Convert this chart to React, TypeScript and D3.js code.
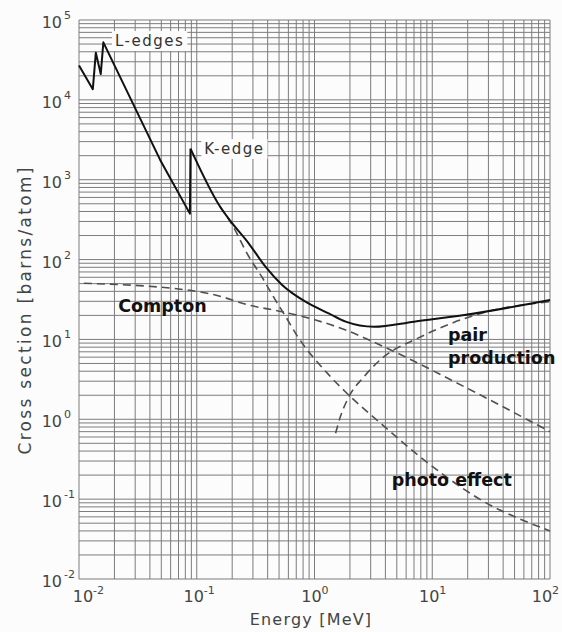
import * as d3 from 'd3';
import React, { useEffect, useRef } from 'react';

// Total attenuation (solid), Pb
const totalEnergy = [0.01, 0.0131, 0.0139, 0.0153, 0.0161, 0.0489, 0.0875, 0.0885, 0.158, 0.193, 0.276, 0.383, 0.531, 0.838, 1.32, 1.84, 3.2, 7.0, 18.7, 100];
const totalSigma = [27000, 13600, 39000, 21000, 52500, 1770, 376, 2450, 459, 305, 160, 81.5, 48.1, 29.7, 21.2, 16.7, 14.4, 16.7, 20.2, 31.2];

const comptonEnergy = [0.011, 0.0826, 0.144, 0.276, 0.531, 1.02, 1.84, 4.44, 18.7, 100];
const comptonSigma = [50.5, 41.6, 36, 27, 22.2, 17.5, 13.1, 7.38, 2.56, 0.7];

const photoEnergy = [0.158, 0.2, 0.276, 0.359, 0.466, 0.567, 0.689, 1.37, 2.02, 3.65, 8.5, 25.9, 100];
const photoSigma = [459, 271, 110, 60, 31, 19.5, 12, 3.41, 1.92, 0.89, 0.31, 0.098, 0.04];

const pairEnergy = [1.51, 1.66, 1.96, 2.63, 3.89, 7.48, 25.9, 100];
const pairSigma = [0.67, 1.08, 1.92, 3.41, 6.08, 10.3, 21.2, 29.7];

const xTickExps = [-2, -1, 0, 1, 2];
const yTickExps = [-2, -1, 0, 1, 2, 3, 4, 5];

// index where the edge part (straight segments) ends and the smooth part starts
const edgeEnd = 7;

const App: React.FC = () => {
    const svgRef = useRef<SVGSVGElement | null>(null);

    useEffect(() => {
        const width = 562;
        const height = 632;
        const margin = { top: 20, right: 12, bottom: 53, left: 79 };

        d3.select(svgRef.current).selectAll('*').remove();

        const svg = d3.select(svgRef.current).attr('width', width).attr('height', height);
        const font = 'DejaVu Sans, sans-serif';

        const x = d3.scaleLog().domain([1e-2, 1e2]).range([margin.left, width - margin.right]);
        const y = d3.scaleLog().domain([1e-2, 1e5]).range([height - margin.bottom, margin.top]);

        svg.append('rect').attr('width', width).attr('height', height).attr('fill', '#fcfcfc');

        // grid: 1..9 in every decade
        const xGrid: number[] = [];
        for (let e = -2; e < 2; e++) for (let m = 1; m < 10; m++) xGrid.push(m * Math.pow(10, e));
        xGrid.push(100);
        const yGrid: number[] = [];
        for (let e = -2; e < 5; e++) for (let m = 1; m < 10; m++) yGrid.push(m * Math.pow(10, e));
        yGrid.push(1e5);

        const grid = svg.append('g').attr('stroke', '#7c7c7c').attr('stroke-width', 1);
        grid.selectAll('.vg')
            .data(xGrid)
            .enter()
            .append('line')
            .attr('x1', d => x(d))
            .attr('x2', d => x(d))
            .attr('y1', y(1e-2))
            .attr('y2', y(1e5));
        grid.selectAll('.hg')
            .data(yGrid)
            .enter()
            .append('line')
            .attr('x1', x(1e-2))
            .attr('x2', x(1e2))
            .attr('y1', d => y(d))
            .attr('y2', d => y(d));

        // tick labels 10^n
        const xt = svg.append('g').attr('font-family', font).attr('fill', '#444');
        xTickExps.forEach((e, i) => {
            let px = x(Math.pow(10, e)) - 3;
            if (i === 0) px += 7;
            if (i === xTickExps.length - 1) px -= 5; // keep the last label inside the page
            xt.append('text').attr('x', px).attr('y', 602).attr('text-anchor', 'middle')
                .attr('font-size', 16).text('10');
            xt.append('text').attr('x', px + 10).attr('y', 594).attr('font-size', 11)
                .text(e < 0 ? `-${-e}` : `${e}`);
        });
        const yt = svg.append('g').attr('font-family', font).attr('fill', '#444');
        yTickExps.forEach(e => {
            const py = y(Math.pow(10, e));
            yt.append('text').attr('x', 62).attr('y', py + 8).attr('text-anchor', 'end')
                .attr('font-size', 16).text('10');
            yt.append('text').attr('x', 64).attr('y', py - 1).attr('font-size', 11)
                .text(e < 0 ? `-${-e}` : `${e}`);
        });

        // axis titles
        svg.append('text')
            .attr('x', 311).attr('y', 625).attr('text-anchor', 'middle')
            .attr('font-family', font).attr('font-size', 16).attr('fill', '#444')
            .attr('letter-spacing', 1.2)
            .text('Energy [MeV]');
        svg.append('text')
            .attr('transform', 'translate(31,311) rotate(-90)')
            .attr('text-anchor', 'middle')
            .attr('font-family', font).attr('font-size', 17).attr('fill', '#444')
            .attr('textLength', 287).attr('lengthAdjust', 'spacing')
            .text('Cross section [barns/atom]');

        // edge labels with white boxes
        const edgeLabels = [
            { text: 'L-edges', e: 0.0202, s: 47200 },
            { text: 'K-edge', e: 0.116, s: 2100 },
        ];
        edgeLabels.forEach(l => {
            const g = svg.append('g');
            const rect = g.append('rect').attr('fill', '#fcfcfc');
            const t = g.append('text')
                .attr('x', x(l.e)).attr('y', y(l.s))
                .attr('font-family', font).attr('font-size', 15).attr('fill', '#333')
                .attr('letter-spacing', 1.5)
                .text(l.text);
            const bb = (t.node() as SVGTextElement).getBBox();
            rect.attr('x', bb.x - 3).attr('y', bb.y - 1).attr('width', bb.width + 6).attr('height', bb.height + 2);
        });

        const pts = (es: number[], ss: number[]) => es.map((e, i) => [x(e), y(ss[i])] as [number, number]);
        const smooth = d3.line().curve(d3.curveMonotoneX);
        const straight = d3.line();

        const dashed = (p: [number, number][]) =>
            svg.append('path').attr('d', smooth(p)).attr('fill', 'none')
                .attr('stroke', '#505050').attr('stroke-width', 1.6).attr('stroke-dasharray', '8,5');

        dashed(pts(comptonEnergy, comptonSigma));
        dashed(pts(photoEnergy, photoSigma));
        dashed(pts(pairEnergy, pairSigma));

        const total = pts(totalEnergy, totalSigma);
        svg.append('path').attr('d', straight(total.slice(0, edgeEnd + 1))).attr('fill', 'none')
            .attr('stroke', '#111').attr('stroke-width', 2).attr('stroke-linejoin', 'round');
        svg.append('path').attr('d', smooth(total.slice(edgeEnd))).attr('fill', 'none')
            .attr('stroke', '#111').attr('stroke-width', 2);

        // process labels
        const procLabels = [
            { text: 'Compton', e: 0.0215, s: 22.1 },
            { text: 'pair', e: 13.6, s: 9.55 },
            { text: 'production', e: 13.6, s: 4.92 },
            { text: 'photo effect', e: 4.52, s: 0.146 },
        ];
        svg.append('g')
            .selectAll('text')
            .data(procLabels)
            .enter()
            .append('text')
            .attr('x', d => x(d.e))
            .attr('y', d => y(d.s))
            .attr('font-family', font)
            .attr('font-size', 17.5)
            .attr('font-weight', 'bold')
            .attr('fill', '#111')
            .text(d => d.text);
    }, []);

    return <svg ref={svgRef} style={{ position: 'absolute', left: 0, top: 0 }}></svg>;
};

export default App;
